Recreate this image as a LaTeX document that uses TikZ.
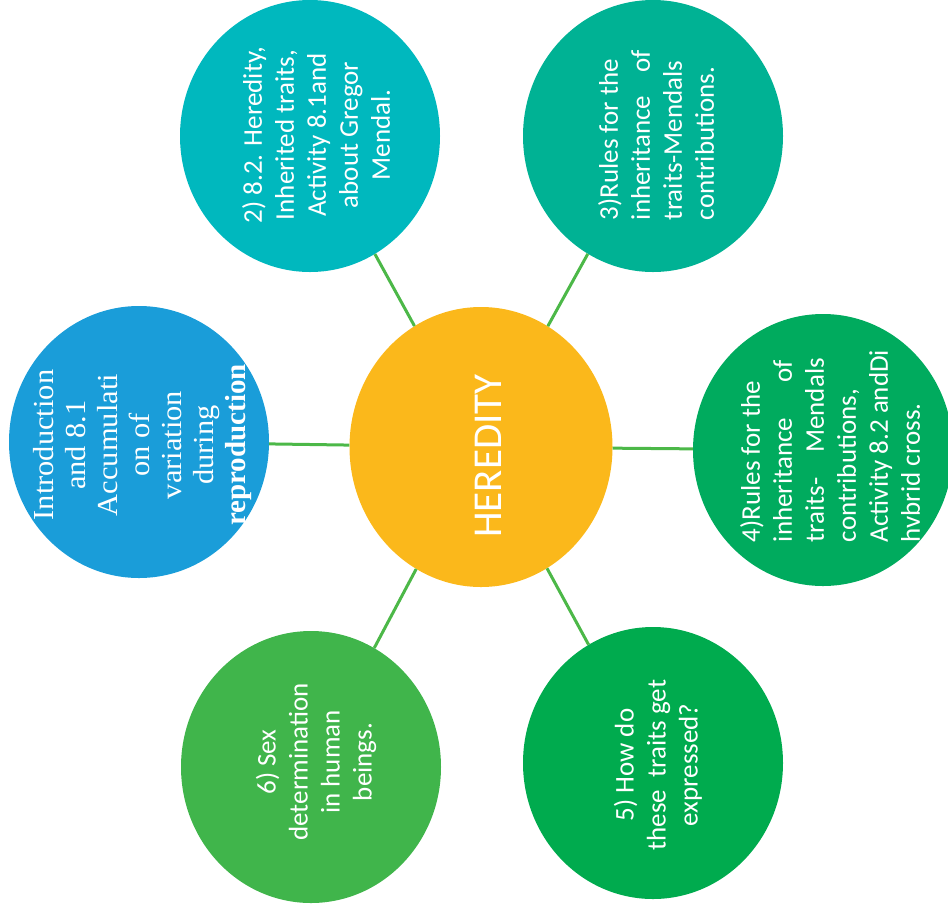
\documentclass[tikz,border=0pt]{standalone}
\usepackage{fontspec}
\setmainfont{Carlito}
\newfontfamily\introfont[FakeStretch=1.05, BoldFeatures={FakeStretch=1.0}]{Liberation Serif}
\usetikzlibrary{shapes.geometric}
\definecolor{heredyellow}{HTML}{FBB81B}
\definecolor{introblue}{HTML}{1A9DD9}
\definecolor{inhteal}{HTML}{00B8BE}
\definecolor{rulesteal}{HTML}{00B294}
\definecolor{rulesgreen}{HTML}{00AB5E}
\definecolor{exprgreen}{HTML}{00AB4E}
\definecolor{sexgreen}{HTML}{40B54B}
\definecolor{linkgreen}{HTML}{4CB848}

\begin{document}
\begin{tikzpicture}[x=1pt,y=-1pt,
  topic/.style={ellipse, minimum width=260pt, minimum height=272pt, inner sep=0pt},
  topictext/.style={rotate=90, text=white, inner sep=0pt, font=\fontsize{27}{32}\selectfont},
  link/.style={draw=linkgreen, line width=3pt}]
  \useasboundingbox (0,0) rectangle (948,914);

  % Centre
  \node[topic, fill=heredyellow, minimum width=263pt, minimum height=280pt] (hered) at (481,447) {};
  \node[topictext, font=\fontsize{41}{48}\selectfont] at (488,456) {HEREDITY};

  % 1) Introduction
  \node[topic, fill=introblue] (intro) at (139,442) {};
  \node[topictext, align=center, font=\introfont\fontsize{29}{32}\selectfont] at (143,445)
    {Introduction\\ and 8.1\hspace*{80pt}\\ Accumulati\hspace*{38pt}\\ on of\hspace*{26pt}\\ variation\\ during\\ \textbf{reproduction}};

  % 2) Heredity
  \node[topic, fill=inhteal] (inh) at (310,136) {};
  \node[topictext, align=center] at (316,135)
    {2) 8.2. Heredity,\\ Inherited traits,\\ Activity 8.1and\\ about Gregor\\ Mendal.};

  % 3) Rules
  \node[topic, fill=rulesteal] (rules) at (653,136) {};
  \node[topictext, align=left] at (656,135)
    {3)Rules for the\\ \makebox[170pt]{inheritance\hfill of}\\ traits-Mendals\\ contributions.};

  % 4) Rules, dihybrid cross
  \node[topic, fill=rulesgreen] (rulesb) at (823,450) {};
  \node[topictext, align=left] at (830,446)
    {4)Rules for the\\ \makebox[182pt]{inheritance\hfill of}\\ \makebox[184pt]{traits-\hfill Mendals}\\ contributions,\\ Activity 8.2 andDi\\ hvbrid cross.};

  % 5) Expression
  \node[topic, fill=exprgreen] (expr) at (653,763) {};
  \node[topictext, align=center] at (658,765)
    {5) How do\\ these\ \ traits get\\ expressed?};

  % 6) Sex determination
  \node[topic, fill=sexgreen] (sexd) at (311,767) {};
  \node[topictext, align=center] at (316,762)
    {6) Sex\\ determination\\ in human\\ beings.};

  % Connections
  \draw[link] (hered) -- (intro);
  \draw[link] (hered) -- (inh);
  \draw[link] (hered) -- (rules);
  \draw[link] (hered) -- (rulesb);
  \draw[link] (hered) -- (expr);
  \draw[link] (hered) -- (sexd);
\end{tikzpicture}
\end{document}
